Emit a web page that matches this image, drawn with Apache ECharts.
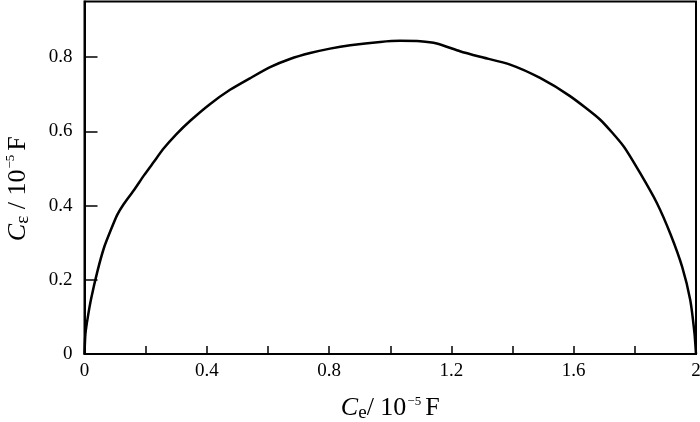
<!DOCTYPE html>
<html>
<head>
<meta charset="utf-8">
<script src="https://cdn.jsdelivr.net/npm/echarts@6/dist/echarts.min.js"></script>
<style>html,body{margin:0;padding:0;background:#fff}#c{width:700px;height:422px}</style>
</head>
<body>
<div id="c"></div>
<script>
// Curve: Ce (x, 10^-5 F) vs Cε (y, 10^-5 F)
const ceValues = [0, 0.003, 0.011, 0.022, 0.042, 0.064, 0.086, 0.107, 0.129, 0.162, 0.195, 0.227, 0.258, 0.300, 0.345, 0.408, 0.476, 0.541, 0.607, 0.672, 0.738, 0.803, 0.869, 0.967, 1.032, 1.098, 1.152, 1.228, 1.294, 1.392, 1.490, 1.588, 1.686, 1.763, 1.817, 1.872, 1.917, 1.955, 1.981, 1.995, 2.0];
const cEpsValues = [0, 0.054, 0.100, 0.150, 0.222, 0.287, 0.334, 0.375, 0.405, 0.442, 0.482, 0.518, 0.553, 0.592, 0.628, 0.672, 0.712, 0.743, 0.773, 0.795, 0.811, 0.823, 0.832, 0.841, 0.844, 0.843, 0.837, 0.816, 0.801, 0.780, 0.744, 0.695, 0.632, 0.560, 0.488, 0.407, 0.322, 0.234, 0.146, 0.056, 0];
const xTickLabels = ['0', '0.4', '0.8', '1.2', '1.6', '2'];
const yTickLabels = ['0', '0.2', '0.4', '0.6', '0.8'];

const FONT = '"Liberation Serif", "Times New Roman", serif';
const points = ceValues.map((x, i) => [x, cEpsValues[i]]);

function pick(labels, v) {
  const s = String(Math.round(v * 1000) / 1000);
  return labels.indexOf(s) >= 0 ? s : '';
}

const nameRich = {
  c: { fontFamily: FONT, fontSize: 26, fontStyle: 'italic', color: '#000' },
  sub: { fontFamily: FONT, fontSize: 19, color: '#000', padding: [10, 0, 0, 0] },
  n: { fontFamily: FONT, fontSize: 26, color: '#000' },
  sup: { fontFamily: FONT, fontSize: 13, color: '#000', padding: [0, 4, 14, 1] }
};

const chart = echarts.init(document.getElementById('c'), null, { renderer: 'canvas' });
chart.setOption({
  animation: false,
  backgroundColor: '#fff',
  grid: { left: 84.5, right: 4, top: 1.5, bottom: 68, outerBoundsMode: 'none', containLabel: false, show: true, borderColor: '#000', borderWidth: 2, backgroundColor: 'transparent' },
  xAxis: {
    type: 'value', min: 0, max: 2, interval: 0.2,
    name: '{c|C}{sub|e}{n|/ 10}{sup|−5}{n|F}',
    nameLocation: 'middle', nameGap: 40,
    nameTextStyle: { rich: nameRich },
    axisLine: { lineStyle: { color: '#000', width: 2 } },
    axisTick: { inside: true, length: 8, lineStyle: { color: '#000', width: 1.5 } },
    axisLabel: { margin: 8, fontFamily: FONT, fontSize: 19, color: '#000', formatter: v => pick(xTickLabels, v), showMaxLabel: true },
    splitLine: { show: false }
  },
  yAxis: {
    type: 'value', min: 0, max: 0.95, interval: 0.2,
    name: '{c|C}{sub|ε}{n| / 10}{sup|−5}{n|F}',
    nameLocation: 'middle', nameGap: 52, nameRotate: 90,
    nameTextStyle: { rich: nameRich, padding: [0, 22, 0, 0] },
    axisLine: { lineStyle: { color: '#000', width: 2 } },
    axisTick: { inside: true, length: 13, lineStyle: { color: '#000', width: 1.5 } },
    axisLabel: { margin: 12, fontFamily: FONT, fontSize: 19, color: '#000', formatter: v => pick(yTickLabels, v), showMaxLabel: false },
    splitLine: { show: false }
  },
  series: [{
    type: 'line', data: points, smooth: 0.2, showSymbol: false,
    lineStyle: { color: '#000', width: 2.5 }
  }]
});
</script>
</body>
</html>
